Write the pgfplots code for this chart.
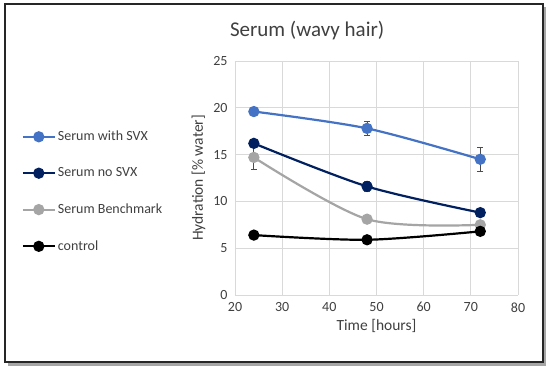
\documentclass[border=0pt]{standalone}
\usepackage{pgfplots}
\pgfplotsset{compat=1.18}
\usepackage{fontspec}
\setmainfont{Carlito}
\definecolor{sBlue}{HTML}{4472C4}
\definecolor{sNavy}{HTML}{002060}
\definecolor{sGray}{HTML}{A5A5A5}
\definecolor{txt}{HTML}{404040}
\definecolor{grd}{HTML}{D9D9D9}
\begin{document}
\begin{tikzpicture}[x=1pt,y=1pt]
\useasboundingbox (0,0) rectangle (550,370);
\fill[white] (0,0) rectangle (550,370);
\fill[black!35] (8,4) rectangle (546,363);
\fill[white,draw=black!85,line width=1.6pt] (5,8) rectangle (543,366);
\begin{axis}[
  at={(235pt,75pt)}, anchor=south west,
  scale only axis, width=283pt, height=234pt,
  xmin=20, xmax=80, ymin=0, ymax=25,
  xtick={20,30,...,80}, ytick={0,5,...,25},
  grid=major, major grid style={grd, line width=0.8pt},
  axis line style={draw=none},
  tick style={draw=none},
  ticklabel style={font=\fontsize{14}{16}\selectfont, text=txt},
  xticklabel style={yshift=-4pt},
  yticklabel style={xshift=-4pt},
  /pgf/number format/assume math mode=true,
  xlabel={Time [hours]}, ylabel={Hydration [\% water]},
  label style={font=\fontsize{15.5}{18}\selectfont, text=txt},
  xlabel style={yshift=0pt},
  ylabel style={yshift=1pt},
  legend style={at={(-0.765,0.718)}, anchor=north west, draw=none, fill=none,
    font=\fontsize{14}{16}\selectfont, text=txt, row sep=21.5pt, cells={anchor=west}},
  legend image code/.code={\draw[mark repeat=2,mark phase=2] plot coordinates {(0pt,0pt) (16pt,0pt) (32pt,0pt)};},
  every axis plot/.append style={line width=2.2pt, mark=*, mark size=4.5pt, smooth, tension=0.5},
  error bars/error bar style={line width=0.8pt, black!70, solid},
  error bars/error mark options={rotate=90, mark size=3pt, line width=0.8pt, black!70},
  clip=false,
]
\addplot[color=sBlue, mark options={fill=sBlue, draw=sBlue},
  error bars/.cd, y dir=both, y explicit]
  coordinates {(24,19.6) +- (0,0) (48,17.8) +- (0,0.75) (72,14.5) +- (0,1.25)};
\addlegendentry{Serum with SVX}
\addplot[color=sNavy, mark options={fill=sNavy, draw=sNavy},
  error bars/.cd, y dir=both, y explicit]
  coordinates {(24,16.2) +- (0,0.3) (48,11.6) +- (0,0.55) (72,8.8) +- (0,0)};
\addlegendentry{Serum no SVX}
\addplot[color=sGray, mark options={fill=sGray, draw=sGray},
  error bars/.cd, y dir=both, y explicit]
  coordinates {(24,14.7) +- (0,1.3) (48,8.1) +- (0,0) (72,7.5) +- (0,0.3)};
\addlegendentry{Serum Benchmark}
\addplot[color=black, mark options={fill=black, draw=black}]
  coordinates {(24,6.4) (48,5.9) (72,6.8)};
\addlegendentry{control}
\node[font=\fontsize{21}{24}\selectfont, text=txt] at (axis description cs:0.255,1.13) {Serum (wavy hair)};
\end{axis}
\end{tikzpicture}
\end{document}
